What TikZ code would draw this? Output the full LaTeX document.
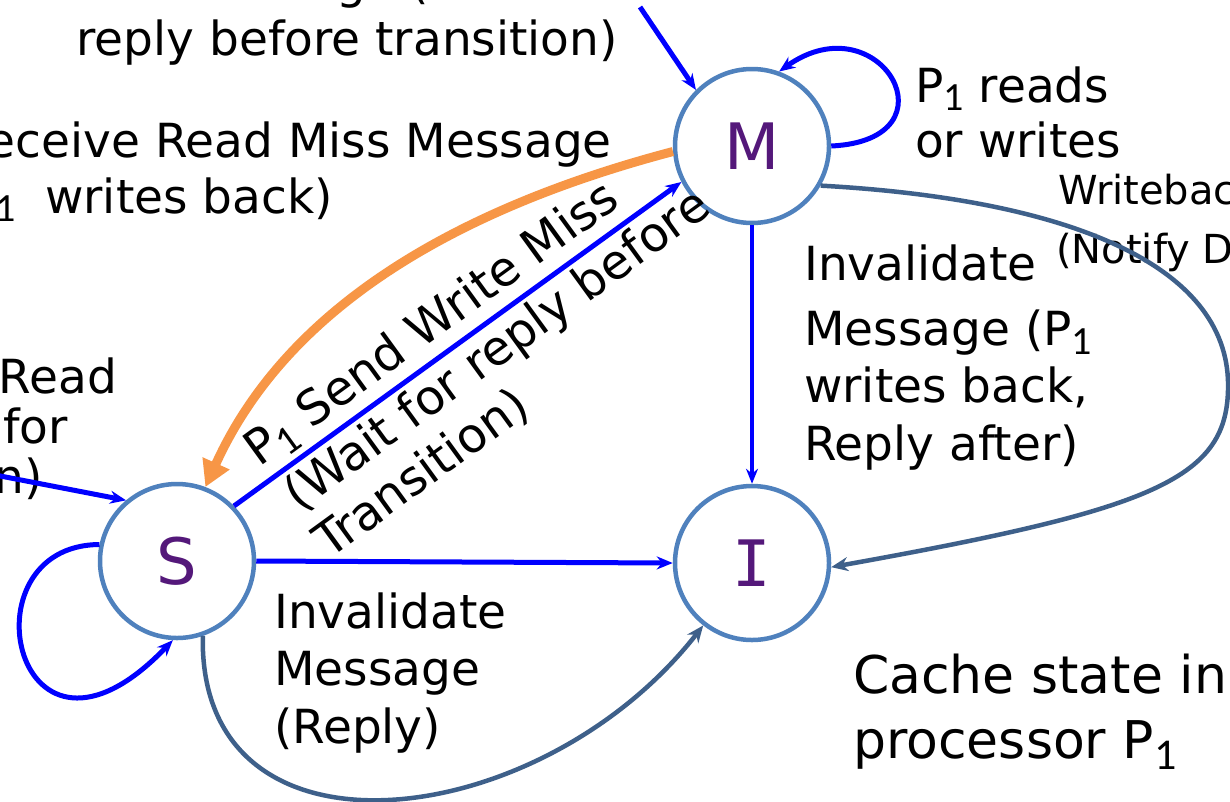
\documentclass[tikz,border=0pt]{standalone}
\usepackage{fontspec}
\setmainfont{DejaVu Sans}
\newfontfamily\subfont{Carlito}
\newfontfamily\monofont{DejaVu Sans Mono}
\usetikzlibrary{arrows.meta}
\definecolor{circcol}{RGB}{79,129,189}
\definecolor{lettercol}{RGB}{84,24,122}
\definecolor{darkcon}{RGB}{62,96,138}
\definecolor{orangecon}{RGB}{247,150,70}
\definecolor{bluecon}{RGB}{0,0,255}
\newcommand{\subone}[2]{\raisebox{-#2pt}{\subfont\fontsize{#1}{#1}\selectfont 1}}
\tikzset{
  state/.style={circle, draw=circcol, line width=4.5pt, fill=white, minimum size=154pt,
    inner sep=0pt, text=lettercol, font=\fontsize{64}{64}\selectfont},
  lbl/.style={inner sep=0pt, text=black, font=\fontsize{47}{57}\selectfont},
  rotlbl/.style={inner sep=0pt, text=black, font=\fontsize{48}{58}\selectfont, anchor=base west, rotate=36},
  smalllbl/.style={inner sep=0pt, text=black, font=\fontsize{40}{48}\selectfont},
  biglbl/.style={inner sep=0pt, text=black, font=\fontsize{52}{65}\selectfont},
  barrow/.style={draw=bluecon, line width=5pt, -{Stealth[length=16pt,width=13pt]}},
  thinbarrow/.style={draw=bluecon, line width=3.6pt, -{Stealth[length=15pt,width=12pt]}},
  darrow/.style={draw=darkcon, line width=4.5pt, -{Stealth[length=17pt,width=14pt]}},
  oarrow/.style={draw=orangecon, line width=9pt, -{Triangle[length=26pt,width=28pt]}}
}
\begin{document}
\begin{tikzpicture}[x=1pt,y=-1pt]
\useasboundingbox (0,0) rectangle (1230,801);
\fill[white] (0,0) rectangle (1230,801);

% states
\node[state] (M) at (752,146) {M};
\node[state] (S) at (177,561) {S};
\node[state, font=\monofont\fontsize{64}{64}\selectfont] (I) at (752,563) {I};

% free ends
\coordinate (topin) at (640,7);
\coordinate (leftin) at (-10,474);

% labels
\node[lbl, anchor=base east] (t1) at (612,-2) {Message (Wait for};
\node[lbl, anchor=base east] (t2) at (618,55) {reply before transition)};
\node[lbl, anchor=base east] (r1) at (612,157) {Receive Read Miss Message};
\node[lbl, anchor=base east] (r2) at (333,213) {(P\subone{40}{8}\ \ writes back)};
\node[lbl, anchor=base west] (p1) at (915,102) {P\subone{40}{8} reads};
\node[lbl, anchor=base west] (p2) at (915,157) {or writes};
\node[smalllbl, anchor=base west] (w1) at (1058,204) {Writeback};
\node[smalllbl, anchor=base west] (w2) at (1056,263) {(Notify Directory)};
\node[lbl, anchor=base west] (i1) at (804,280) {Invalidate};
\node[lbl, anchor=base west] (i2) at (804,345) {Message (P\subone{40}{9}};
\node[lbl, anchor=base west] (i3) at (804,402) {writes back,};
\node[lbl, anchor=base west] (i4) at (804,460) {Reply after)};
\node[lbl, anchor=base east] (l1) at (117,393) {Read};
\node[lbl, anchor=base east] (l2) at (68,443) {for};
\node[lbl, anchor=base east] (l3) at (43,493) {n)};
\node[rotlbl] (d1) at (259,468) {P\subone{41}{8} Send Write Miss};
\node[rotlbl] (d2) at (299,513) {(Wait for reply before};
\node[rotlbl] (d3) at (329,560) {Transition)};
\node[lbl, anchor=base west] (s1) at (274,628) {Invalidate};
\node[lbl, anchor=base west] (s2) at (274,685) {Message};
\node[lbl, anchor=base west] (s3) at (274,743) {(Reply)};
\node[biglbl, anchor=base west] (c1) at (853,693) {Cache state in};
\node[biglbl, anchor=base west] (c2) at (853,758) {processor P\subone{44}{11}};

% connectors
\draw[barrow] (topin) -- (M.135);
\draw[barrow] (M.east) .. controls (960,140) and (880,0) .. (M.70);
\draw[oarrow] (M.184) .. controls (470,205) and (290,300) .. (S.69);
\draw[barrow] (S.44) -- (M.207);
\draw[thinbarrow] (M.south) -- (I.north);
\draw[darrow] (M.-30) .. controls (1080,200) and (1232,270) .. (1228,390)
   .. controls (1226,480) and (1150,510) .. (I.-3);
\draw[barrow] (S.east) -- (I.west);
\draw[barrow] (S.168) .. controls (-40,545) and (15,805) .. (S.-93);
\draw[darrow] (S.-71) .. controls (198,875) and (540,835) .. (I.-128);
\draw[barrow] (leftin) -- (S.130);
\end{tikzpicture}
\end{document}
